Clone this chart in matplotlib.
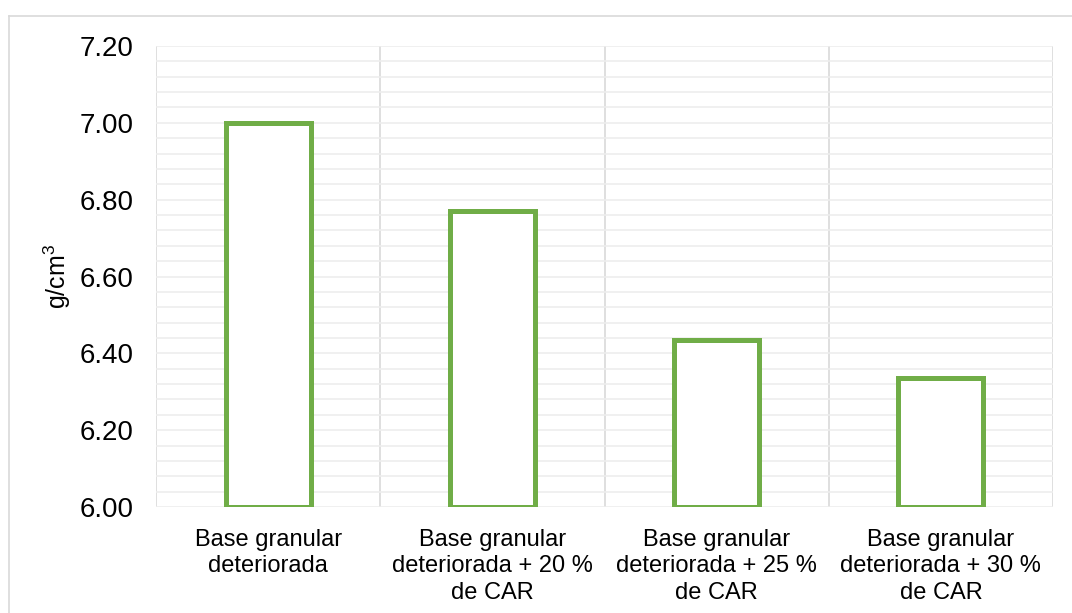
import matplotlib.pyplot as plt
import numpy as np
from matplotlib.lines import Line2D

categories = [
    "Base granular\ndeteriorada",
    "Base granular\ndeteriorada + 20 %\nde CAR",
    "Base granular\ndeteriorada + 25 %\nde CAR",
    "Base granular\ndeteriorada + 30 %\nde CAR",
]
densidad = [7.00, 6.77, 6.435, 6.335]
y_ticks = [6.00, 6.20, 6.40, 6.60, 6.80, 7.00, 7.20]

plt.rcParams['font.family'] = ['Liberation Sans', 'DejaVu Sans']
plt.rcParams['mathtext.fontset'] = 'custom'
plt.rcParams['mathtext.rm'] = 'Liberation Sans'
plt.rcParams['mathtext.it'] = 'Liberation Sans'

fig = plt.figure(figsize=(10.72, 6.13), dpi=100)
ax = fig.add_axes([156 / 1072, 1 - 507 / 613, (1053 - 156) / 1072, (507 - 46) / 613])

x = np.arange(len(categories))
ax.bar(x, [v - 6.0 for v in densidad], bottom=6.0, width=0.38,
       facecolor='white', edgecolor='#70AD47', linewidth=3.6, zorder=3)

ax.set_xlim(-0.5, len(categories) - 0.5)
ax.set_ylim(6.0, 7.2)
ax.set_yticks(y_ticks)
ax.set_yticklabels([f"{t:.2f}" for t in y_ticks], fontsize=20)
ax.set_yticks(np.arange(6.0, 7.2001, 0.04), minor=True)
ax.set_xticks(x)
ax.set_xticklabels(categories, fontsize=17, linespacing=1.25)
ax.tick_params(axis='both', which='both', length=0)
ax.tick_params(axis='y', pad=16)
ax.tick_params(axis='x', pad=16)

# light horizontal grid, major and minor alike
ax.grid(axis='y', which='both', color='#EDEDED', linewidth=1.2, zorder=0)
# category separators
for b in np.arange(-0.5, len(categories), 1.0):
    ax.axvline(b, color='#D9D9D9', linewidth=1.2, zorder=1)

for s in ax.spines.values():
    s.set_visible(False)

ax.set_ylabel(r"g/cm$^{\mathrm{3}}$", fontsize=18)
ax.yaxis.set_label_coords(-0.093, 0.5)

# chart area border (top and left edges)
fig.add_artist(Line2D([9 / 1072, 1.0], [1 - 16 / 613, 1 - 16 / 613],
                      color='#D9D9D9', linewidth=1.2, transform=fig.transFigure))
fig.add_artist(Line2D([9 / 1072, 9 / 1072], [0, 1 - 16 / 613],
                      color='#D9D9D9', linewidth=1.2, transform=fig.transFigure))

fig.savefig("out.png", dpi=100)
